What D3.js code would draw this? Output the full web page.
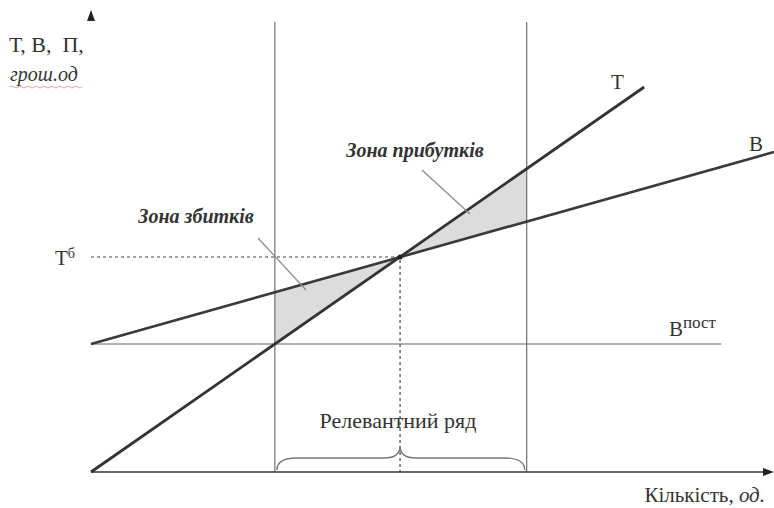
<!DOCTYPE html>
<html><head><meta charset="utf-8">
<script src="https://cdn.jsdelivr.net/npm/d3@7"></script>
<style>body{margin:0;background:#fff}svg{display:block}text{font-family:"Liberation Serif","DejaVu Serif",serif;fill:#333}</style>
</head><body>
<script>
// ---- data (quantity units, money units) ----
const xDomain = [0, 221];
const yDomain = [0, 460];
const revenueT = [[0, 0], [179, 385]];          // T
const totalCostB = [[0, 128], [221, 320]];      // B
const fixedCost = [[0, 128], [204, 128]];       // B пост
const breakEven = [100, 215];                   // T б
const relevantRange = [59.5, 141];
const lossZone = [[59.5, 128], [59.5, 179.8], [100, 215]];
const profitZone = [[100, 215], [141, 303], [141, 250.7]];
const labels = {yTop: "Т, В,  П,", yUnit: "грош.од", xName: "Кількість, ", xUnit: "од.",
  T: "Т", B: "В", Tb: ["Т", "б"], Bp: ["В", "пост"], loss: "Зона збитків", profit: "Зона прибутків", rel: "Релевантний ряд"};

const W = 774, H = 508;
const svg = d3.select("body").append("svg").attr("width", W).attr("height", H);
const x = d3.scaleLinear().domain(xDomain).range([91, 774]);
const y = d3.scaleLinear().domain(yDomain).range([472, 12]);
const line = d3.line().x(d => x(d[0])).y(d => y(d[1]));

// shaded zones
svg.selectAll(".zone").data([lossZone, profitZone]).join("path")
  .attr("d", d => line(d) + "Z").attr("fill", "#dcdcdc").attr("stroke", "none");

// relevant range verticals
svg.selectAll(".rr").data(relevantRange).join("line")
  .attr("x1", d => x(d)).attr("x2", d => x(d)).attr("y1", 22).attr("y2", y(0))
  .attr("stroke", "#555").attr("stroke-width", 1);

// fixed cost
svg.append("path").attr("d", line(fixedCost)).attr("stroke", "#666").attr("stroke-width", 1.2).attr("fill", "none");

// dashed break-even guides
svg.append("path").attr("d", line([[0, breakEven[1]], breakEven, [breakEven[0], 0]]))
  .attr("stroke", "#444").attr("stroke-width", 1.2).attr("stroke-dasharray", "3,3").attr("fill", "none");

// T and B lines
svg.append("path").attr("d", line(totalCostB)).attr("stroke", "#3a3a3a").attr("stroke-width", 2.6).attr("fill", "none");
svg.append("path").attr("d", line(revenueT)).attr("stroke", "#333").attr("stroke-width", 2.8).attr("fill", "none");
svg.append("circle").attr("cx", x(breakEven[0])).attr("cy", y(breakEven[1])).attr("r", 2.5).attr("fill", "#222");

// axes
const xAxis = d3.axisBottom(x).tickValues([]).tickSizeOuter(0);
const yAxis = d3.axisLeft(y).tickValues([]).tickSizeOuter(0);
const gx = svg.append("g").attr("transform", `translate(0,${y(0)})`).call(xAxis);
const gy = svg.append("g").attr("transform", `translate(${x(0)},0)`).call(yAxis);
gx.select(".domain").attr("stroke", "#333").attr("stroke-width", 1.3).attr("d", `M${x(0)},0H768`);
gy.select(".domain").attr("stroke", "#333").attr("stroke-width", 1.3).attr("d", `M0,0V${18 - y(0)}`);
svg.append("path").attr("d", `M${x(0)},10 L${x(0) - 4},21 L${x(0) + 4},21 Z`).attr("fill", "#222");
svg.append("path").attr("d", `M774,${y(0)} L763,${y(0) - 4} L763,${y(0) + 4} Z`).attr("fill", "#222");

// leader lines
svg.append("line").attr("x1", 258).attr("y1", 238).attr("x2", 306).attr("y2", 290).attr("stroke", "#888").attr("stroke-width", 1.2);
svg.append("line").attr("x1", 422).attr("y1", 170).attr("x2", 470).attr("y2", 214).attr("stroke", "#888").attr("stroke-width", 1.2);

// brace
const bL = x(relevantRange[0]) + 2, bR = x(relevantRange[1]) - 2, bM = x(breakEven[0]), yb = y(0);
svg.append("path").attr("fill", "none").attr("stroke", "#777").attr("stroke-width", 1.4)
  .attr("d", `M${bL},${yb - 2} Q${bL},${yb - 14} ${bL + 20},${yb - 14} L${bM - 16},${yb - 14} Q${bM},${yb - 14} ${bM},${yb - 26}
   Q${bM},${yb - 14} ${bM + 16},${yb - 14} L${bR - 20},${yb - 14} Q${bR},${yb - 14} ${bR},${yb - 2}`);

// texts
svg.append("text").attr("x", 9).attr("y", 52).attr("font-size", 22).attr("xml:space", "preserve").text(labels.yTop);
svg.append("text").attr("x", 10).attr("y", 81).attr("font-size", 20).attr("font-style", "italic").text(labels.yUnit);
svg.append("path").attr("d", "M10,87 q2,-2 4,0 t4,0 t4,0 t4,0 t4,0 t4,0 t4,0 t4,0 t4,0 t4,0 t4,0 t4,0 t4,0 t4,0 t4,0 t4,0 t4,0 t4,0")
  .attr("stroke", "#e8a0a8").attr("fill", "none").attr("stroke-width", 1);

svg.append("text").attr("x", 611).attr("y", 89).attr("font-size", 21).text(labels.T);
svg.append("text").attr("x", 749).attr("y", 151).attr("font-size", 21).text(labels.B);

const tb = svg.append("text").attr("x", 55).attr("y", 265).attr("font-size", 21);
tb.append("tspan").text(labels.Tb[0]);
tb.append("tspan").attr("font-size", 14).attr("dy", -7).text(labels.Tb[1]);

const bp = svg.append("text").attr("x", 669).attr("y", 336).attr("font-size", 21);
bp.append("tspan").text(labels.Bp[0]);
bp.append("tspan").attr("font-size", 17).attr("dy", -8).text(labels.Bp[1]);

svg.append("text").attr("x", 415).attr("y", 157).attr("font-size", 20).attr("font-style", "italic").attr("font-weight", "bold").attr("text-anchor", "middle").text(labels.profit);
svg.append("text").attr("x", 196).attr("y", 223).attr("font-size", 20).attr("font-style", "italic").attr("font-weight", "bold").attr("text-anchor", "middle").text(labels.loss);
svg.append("text").attr("x", 398).attr("y", 428).attr("font-size", 22).attr("text-anchor", "middle").text(labels.rel);

const xl = svg.append("text").attr("x", 765).attr("y", 502).attr("font-size", 21).attr("text-anchor", "end");
xl.append("tspan").text(labels.xName);
xl.append("tspan").attr("font-style", "italic").text(labels.xUnit);
</script>
</body></html>
